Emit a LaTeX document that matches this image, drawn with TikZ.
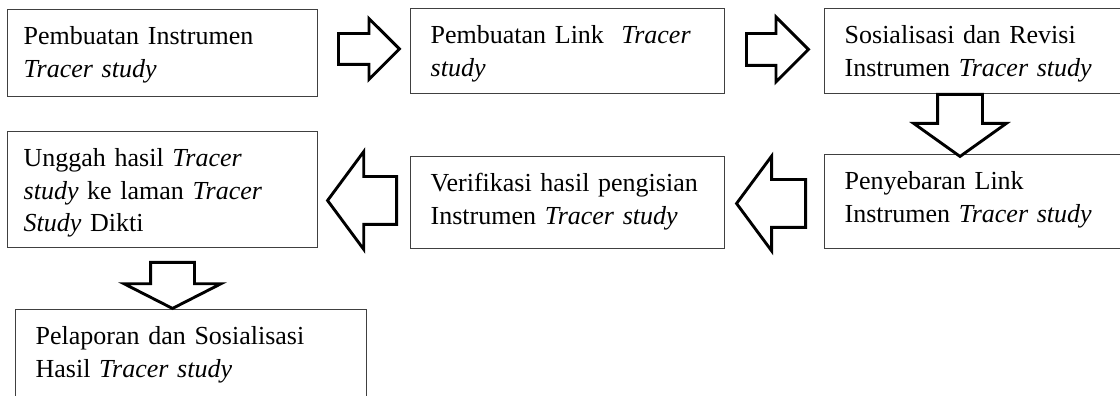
\documentclass[tikz,border=0pt]{standalone}
\usepackage{fontspec}
\setmainfont{Liberation Serif}
\usetikzlibrary{shapes.arrows}

\newcommand{\pxl}{0.45pt}

\tikzset{
  stage/.style={draw=black!75, line width=0.6pt, anchor=north west, align=left,
    inner xsep=20*\pxl, inner ysep=0pt, text height=35*\pxl,
    font=\fontsize{11.7pt}{14.6pt}\selectfont},
  flow/.style={single arrow, draw, line width=1.3pt, fill=white, anchor=tail,
    single arrow head indent=0pt, inner xsep=0pt}
}

\begin{document}
\begin{tikzpicture}[x=0.45pt, y=-0.45pt]
\useasboundingbox (0,0) rectangle (1120,396);
\clip (0,0) rectangle (1120,396);

% Baris atas
\node[stage, inner xsep=16*\pxl, text width=278*\pxl, text depth=52*\pxl] (instrumen) at (7,9)
  {Pembuatan Instrumen\\ \textit{Tracer study}};
\node[stage, text width=274*\pxl, text depth=50*\pxl] (link) at (410,8)
  {Pembuatan Link\ \ \textit{Tracer}\\ \textit{study}};
\node[stage, text width=266*\pxl, text depth=50*\pxl] (revisi) at (824,8)
  {Sosialisasi dan Revisi\\ Instrumen \textit{Tracer study}};

% Baris tengah
\node[stage, text width=266*\pxl, text depth=59*\pxl] (sebar) at (824,154)
  {Penyebaran Link\\ Instrumen \textit{Tracer study}};
\node[stage, text width=274*\pxl, text depth=57*\pxl] (verifikasi) at (410,156)
  {\mbox{Verifikasi hasil pengisian}\\ Instrumen \textit{Tracer study}};
\node[stage, inner xsep=16*\pxl, text width=278*\pxl, text depth=81*\pxl] (unggah) at (7,131)
  {Unggah hasil \textit{Tracer}\\ \textit{study} ke laman \textit{Tracer}\\ \textit{Study} Dikti};

% Baris bawah
\node[stage, text width=311*\pxl, text depth=76*\pxl] (laporan) at (15,309)
  {Pelaporan dan Sosialisasi\\ Hasil \textit{Tracer study}};

% Panah blok
\node[flow, minimum height=61*\pxl, inner ysep=14*\pxl, minimum width=58*\pxl,
  single arrow head extend=15*\pxl, single arrow tip angle=90] (a1) at (337,49) {};
\node[flow, minimum height=62*\pxl, inner ysep=14.5*\pxl, minimum width=62*\pxl,
  single arrow head extend=16.5*\pxl, single arrow tip angle=90] (a2) at (745,49.5) {};
\node[flow, shape border rotate=270, minimum height=62*\pxl, inner xsep=21*\pxl, inner ysep=0pt,
  minimum width=90*\pxl, single arrow head extend=24*\pxl, single arrow tip angle=109] (a3) at (960,93) {};
\node[flow, shape border rotate=180, minimum height=69*\pxl, inner ysep=22.5*\pxl, minimum width=92*\pxl,
  single arrow head extend=23.5*\pxl, single arrow tip angle=107] (a4) at (807,203.5) {};
\node[flow, shape border rotate=180, minimum height=69*\pxl, inner ysep=22.5*\pxl, minimum width=95*\pxl,
  single arrow head extend=25*\pxl, single arrow tip angle=107] (a5) at (398,200.5) {};
\node[flow, shape border rotate=270, minimum height=46*\pxl, inner xsep=20.5*\pxl, inner ysep=0pt,
  minimum width=94*\pxl, single arrow head extend=26.5*\pxl, single arrow tip angle=126] (a6) at (172.5,261) {};

\end{tikzpicture}
\end{document}
